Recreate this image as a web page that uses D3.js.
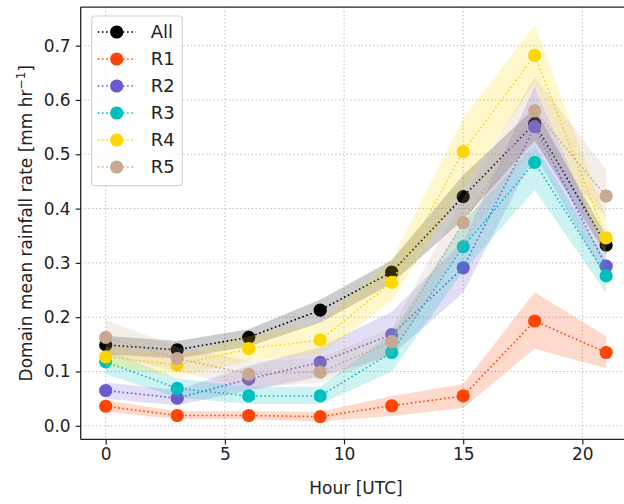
<!DOCTYPE html>
<html>
<head>
<meta charset="utf-8">
<script src="https://cdn.jsdelivr.net/npm/d3@7"></script>
<style>
    body { margin: 0; background: #fff; }
    text { font-family: "DejaVu Sans", sans-serif; fill: #222; }
</style>
</head>
<body>
<div id="chart"></div>
<script>
// hours of the day
const hours = [0, 3, 6, 9, 12, 15, 18, 21];

// series means and shaded range (lo / hi)
const allMean = [0.149, 0.140, 0.163, 0.213, 0.283, 0.422, 0.557, 0.333];
const allLo   = [0.132, 0.124, 0.146, 0.190, 0.262, 0.380, 0.525, 0.315];
const allHi   = [0.166, 0.156, 0.178, 0.232, 0.305, 0.462, 0.585, 0.350];

const r1Mean = [0.036, 0.019, 0.019, 0.017, 0.037, 0.055, 0.193, 0.135];
const r1Lo   = [0.026, 0.012, 0.012, 0.008, 0.018, 0.033, 0.142, 0.106];
const r1Hi   = [0.047, 0.027, 0.027, 0.026, 0.055, 0.077, 0.246, 0.165];

const r2Mean = [0.065, 0.051, 0.086, 0.117, 0.168, 0.291, 0.551, 0.294];
const r2Lo   = [0.050, 0.038, 0.065, 0.090, 0.130, 0.245, 0.500, 0.270];
const r2Hi   = [0.080, 0.066, 0.110, 0.145, 0.210, 0.340, 0.625, 0.320];

const r3Mean = [0.118, 0.069, 0.055, 0.055, 0.135, 0.330, 0.485, 0.276];
const r3Lo   = [0.095, 0.052, 0.040, 0.040, 0.100, 0.285, 0.434, 0.245];
const r3Hi   = [0.140, 0.087, 0.072, 0.072, 0.170, 0.375, 0.517, 0.305];

const r4Mean = [0.127, 0.112, 0.142, 0.158, 0.264, 0.505, 0.682, 0.346];
const r4Lo   = [0.110, 0.090, 0.120, 0.130, 0.231, 0.434, 0.630, 0.310];
const r4Hi   = [0.145, 0.130, 0.165, 0.190, 0.305, 0.567, 0.738, 0.385];

const r5Mean = [0.163, 0.124, 0.095, 0.099, 0.155, 0.374, 0.580, 0.423];
const r5Lo   = [0.130, 0.100, 0.070, 0.080, 0.130, 0.330, 0.520, 0.384];
const r5Hi   = [0.195, 0.145, 0.120, 0.125, 0.180, 0.420, 0.643, 0.471];

const seriesNames = ["All", "R1", "R2", "R3", "R4", "R5"];
const seriesColors = ["#000000", "#ff4500", "#6a5acd", "#00bfbf", "#ffd700", "#c9a890"];

const xTicks = [0, 5, 10, 15, 20];
const yTicks = [0.0, 0.1, 0.2, 0.3, 0.4, 0.5, 0.6, 0.7];

const series = [
    {mean: allMean, lo: allLo, hi: allHi},
    {mean: r1Mean, lo: r1Lo, hi: r1Hi},
    {mean: r2Mean, lo: r2Lo, hi: r2Hi},
    {mean: r3Mean, lo: r3Lo, hi: r3Hi},
    {mean: r4Mean, lo: r4Lo, hi: r4Hi},
    {mean: r5Mean, lo: r5Lo, hi: r5Hi}
].map((s, i) => ({...s, name: seriesNames[i], color: seriesColors[i]}));

const width = 624, height = 504;
const plot = {left: 80.7, right: 631.2, top: 7.1, bottom: 439.4};
const fontSize = "17px";

const svg = d3.select("#chart")
    .append("svg")
    .attr("width", width)
    .attr("height", height);

const x = d3.scaleLinear().domain([-1.05, 22.05]).range([plot.left, plot.right]);
const y = d3.scaleLinear().domain([-0.025, 0.771]).range([plot.bottom, plot.top]);

// grid
const grid = svg.append("g")
    .attr("stroke", "#b0b0b0")
    .attr("stroke-width", 1)
    .attr("stroke-dasharray", "1.2,2.6");

grid.selectAll("line.gx").data(xTicks).enter().append("line")
    .attr("x1", d => x(d)).attr("x2", d => x(d))
    .attr("y1", plot.top).attr("y2", plot.bottom);

grid.selectAll("line.gy").data(yTicks).enter().append("line")
    .attr("x1", plot.left).attr("x2", plot.right)
    .attr("y1", d => y(d)).attr("y2", d => y(d));

// bands, lines and markers, series by series
const area = d3.area()
    .x((d, i) => x(hours[i]))
    .y0(d => y(d[0]))
    .y1(d => y(d[1]));

const line = d3.line()
    .x((d, i) => x(hours[i]))
    .y(d => y(d));

series.forEach(s => {
    const g = svg.append("g");
    g.append("path")
        .attr("d", area(s.lo.map((v, i) => [v, s.hi[i]])))
        .attr("fill", s.color)
        .attr("fill-opacity", 0.2);
    g.append("path")
        .attr("d", line(s.mean))
        .attr("fill", "none")
        .attr("stroke", s.color)
        .attr("stroke-width", 1.6)
        .attr("stroke-dasharray", "1.6,2.6");
    g.selectAll("circle").data(s.mean).enter().append("circle")
        .attr("cx", (d, i) => x(hours[i]))
        .attr("cy", d => y(d))
        .attr("r", 6.6)
        .attr("fill", s.color);
});

// axes
const xAxis = svg.append("g")
    .attr("transform", `translate(0,${plot.bottom})`)
    .call(d3.axisBottom(x).tickValues(xTicks).tickSize(5).tickPadding(4).tickFormat(d3.format("d")));

const yAxis = svg.append("g")
    .attr("transform", `translate(${plot.left},0)`)
    .call(d3.axisLeft(y).tickValues(yTicks).tickSize(5).tickPadding(5).tickFormat(d3.format(".1f")));

[xAxis, yAxis].forEach(a => {
    a.select(".domain").remove();
    a.selectAll(".tick line").attr("stroke", "#222").attr("stroke-width", 1.2);
    a.selectAll(".tick text").style("font-size", fontSize).attr("fill", "#222");
});

// spines (right one falls outside the picture)
const spines = svg.append("g").attr("stroke", "#222").attr("stroke-width", 1.3).attr("fill", "none");
spines.append("line").attr("x1", plot.left).attr("x2", plot.left).attr("y1", plot.top).attr("y2", plot.bottom);
spines.append("line").attr("x1", plot.left).attr("x2", width).attr("y1", plot.bottom).attr("y2", plot.bottom);
spines.append("line").attr("x1", plot.left).attr("x2", width).attr("y1", plot.top).attr("y2", plot.top);

// axis labels
svg.append("text")
    .attr("x", 356)
    .attr("y", 494)
    .attr("text-anchor", "middle")
    .style("font-size", fontSize)
    .text("Hour [UTC]");

const yLabel = svg.append("text")
    .attr("transform", `translate(32,${(plot.top + plot.bottom) / 2}) rotate(-90)`)
    .attr("text-anchor", "middle")
    .style("font-size", fontSize);
yLabel.append("tspan").text("Domain mean rainfall rate [mm hr");
yLabel.append("tspan").attr("dy", -7).style("font-size", "12px").text("\u22121");
yLabel.append("tspan").attr("dy", 7).text("]");

// legend
const legend = svg.append("g").attr("transform", "translate(91.7,16)");
legend.append("rect")
    .attr("width", 90.6)
    .attr("height", 169.7)
    .attr("rx", 3)
    .attr("fill", "#fff")
    .attr("fill-opacity", 0.8)
    .attr("stroke", "#d6d6d6")
    .attr("stroke-width", 1.2);

const rows = legend.selectAll("g.row").data(series).enter().append("g")
    .attr("class", "row")
    .attr("transform", (d, i) => `translate(0,${16 + i * 27})`);

rows.append("line")
    .attr("x1", 6).attr("x2", 43)
    .attr("stroke", d => d.color)
    .attr("stroke-width", 1.6)
    .attr("stroke-dasharray", "1.6,2.6");

rows.append("circle")
    .attr("cx", 25)
    .attr("r", 6.6)
    .attr("fill", d => d.color);

rows.append("text")
    .attr("x", 59)
    .attr("dy", "0.35em")
    .style("font-size", "18px")
    .text(d => d.name);
</script>
</body>
</html>
